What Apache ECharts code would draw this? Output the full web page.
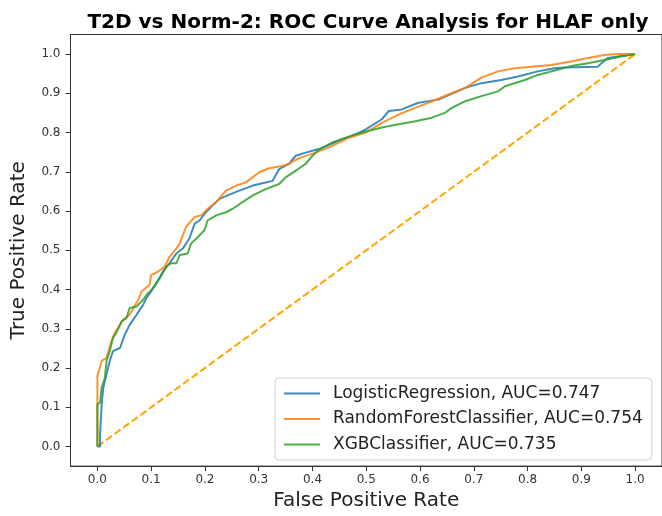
<!DOCTYPE html>
<html>
<head>
<meta charset="utf-8">
<script src="https://cdn.jsdelivr.net/npm/echarts@6/dist/echarts.min.js"></script>
<style>html,body{margin:0;padding:0;background:#fff}#c{width:662px;height:516px}</style>
</head>
<body>
<div id="c"></div>
<script>
const titleText = 'T2D vs Norm-2: ROC Curve Analysis for HLAF only';
const xTicks = [0, 0.1, 0.2, 0.3, 0.4, 0.5, 0.6, 0.7, 0.8, 0.9, 1.0];
const yTicks = [0, 0.1, 0.2, 0.3, 0.4, 0.5, 0.6, 0.7, 0.8, 0.9, 1.0];
const seriesNames = ['LogisticRegression, AUC=0.747', 'RandomForestClassifier, AUC=0.754', 'XGBClassifier, AUC=0.735'];

const lrFpr = [0, 0.005, 0.005, 0.008, 0.011, 0.017, 0.023, 0.029, 0.042, 0.051, 0.06, 0.073, 0.085, 0.091, 0.1, 0.113, 0.122, 0.134, 0.147, 0.159, 0.171, 0.181, 0.19, 0.202, 0.214, 0.227, 0.242, 0.264, 0.289, 0.313, 0.326, 0.338, 0.356, 0.369, 0.387, 0.412, 0.455, 0.474, 0.499, 0.529, 0.542, 0.566, 0.597, 0.634, 0.662, 0.684, 0.714, 0.751, 0.782, 0.819, 0.85, 0.869, 0.93, 0.949, 0.968, 1.0];
const lrTpr = [0, 0, 0.032, 0.108, 0.15, 0.184, 0.218, 0.243, 0.251, 0.285, 0.31, 0.336, 0.361, 0.378, 0.395, 0.424, 0.446, 0.467, 0.492, 0.505, 0.53, 0.568, 0.576, 0.597, 0.614, 0.631, 0.64, 0.652, 0.665, 0.673, 0.677, 0.707, 0.72, 0.741, 0.749, 0.758, 0.783, 0.791, 0.808, 0.834, 0.855, 0.859, 0.876, 0.884, 0.901, 0.914, 0.926, 0.934, 0.943, 0.956, 0.964, 0.966, 0.968, 0.99, 0.994, 1.0];

const rfFpr = [0, 0, 0.008, 0.017, 0.026, 0.032, 0.048, 0.06, 0.076, 0.082, 0.097, 0.1, 0.113, 0.125, 0.134, 0.147, 0.153, 0.165, 0.181, 0.193, 0.205, 0.221, 0.239, 0.258, 0.276, 0.301, 0.319, 0.344, 0.356, 0.375, 0.406, 0.437, 0.468, 0.499, 0.529, 0.56, 0.591, 0.622, 0.653, 0.684, 0.714, 0.745, 0.776, 0.807, 0.844, 0.881, 0.912, 0.943, 0.968, 1.0];
const rfTpr = [0, 0.18, 0.218, 0.226, 0.268, 0.289, 0.323, 0.336, 0.374, 0.395, 0.412, 0.437, 0.446, 0.458, 0.483, 0.505, 0.517, 0.56, 0.585, 0.589, 0.606, 0.623, 0.652, 0.665, 0.673, 0.699, 0.709, 0.715, 0.72, 0.735, 0.749, 0.766, 0.787, 0.8, 0.825, 0.846, 0.863, 0.88, 0.897, 0.914, 0.94, 0.956, 0.964, 0.968, 0.972, 0.981, 0.99, 0.998, 1.0, 1.0];

const xgbFpr = [0, 0, 0.005, 0.008, 0.014, 0.017, 0.023, 0.029, 0.035, 0.045, 0.054, 0.06, 0.073, 0.085, 0.091, 0.103, 0.116, 0.128, 0.137, 0.147, 0.153, 0.168, 0.174, 0.187, 0.199, 0.205, 0.221, 0.239, 0.252, 0.27, 0.289, 0.313, 0.338, 0.35, 0.369, 0.387, 0.4, 0.412, 0.437, 0.48, 0.529, 0.56, 0.591, 0.622, 0.647, 0.659, 0.684, 0.714, 0.745, 0.758, 0.795, 0.819, 0.856, 0.881, 0.912, 0.943, 0.974, 1.0];
const xgbTpr = [0, 0.108, 0.112, 0.15, 0.175, 0.218, 0.243, 0.277, 0.289, 0.319, 0.327, 0.353, 0.357, 0.374, 0.386, 0.403, 0.429, 0.458, 0.467, 0.467, 0.488, 0.492, 0.517, 0.534, 0.551, 0.576, 0.589, 0.597, 0.606, 0.623, 0.64, 0.656, 0.669, 0.686, 0.703, 0.72, 0.741, 0.756, 0.775, 0.796, 0.813, 0.821, 0.829, 0.838, 0.851, 0.863, 0.88, 0.893, 0.905, 0.918, 0.934, 0.947, 0.96, 0.97, 0.977, 0.985, 0.994, 1.0];

const diagX = [0, 1];
const diagY = [0, 1];

const zip = (a, b) => a.map((v, i) => [v, b[i]]);
const colors = ['#1f77b4', '#ff7f0e', '#2ca02c'];
const FONT = 'DejaVu Sans';

const chart = echarts.init(document.getElementById('c'), null, {renderer: 'canvas'});
const lineSeries = (name, data, color) => ({
  name, type: 'line', data, symbol: 'none', showSymbol: false, animation: false,
  lineStyle: {color, width: 2, opacity: 0.85}, itemStyle: {color}, z: 3
});

chart.setOption({
  animation: false,
  textStyle: {fontFamily: FONT},
  title: {
    text: titleText, left: 363, top: 8, textAlign: 'center',
    textStyle: {fontFamily: FONT, fontWeight: 'bold', fontSize: 20, color: '#000'}
  },
  grid: {left: 70.5, top: 34.5, right: -2.5, bottom: 47, show: true, borderColor: '#333', borderWidth: 1, backgroundColor: '#fff'},
  xAxis: {
    type: 'value', min: -0.05, max: 1.05,
    name: 'False Positive Rate', nameLocation: 'middle', nameGap: 22,
    nameTextStyle: {fontFamily: FONT, fontSize: 20, color: '#222'},
    axisLine: {show: true, onZero: false, lineStyle: {color: '#333', width: 1}},
    axisTick: {show: true, length: 5, customValues: xTicks, lineStyle: {color: '#333'}},
    axisLabel: {customValues: xTicks, formatter: v => v.toFixed(1), fontFamily: FONT, fontSize: 12, color: '#333', margin: 8},
    splitLine: {show: false}
  },
  yAxis: {
    type: 'value', min: -0.05, max: 1.05,
    name: 'True Positive Rate', nameLocation: 'middle', nameGap: 41.5,
    nameTextStyle: {fontFamily: FONT, fontSize: 20, color: '#222'},
    axisLine: {show: true, onZero: false, lineStyle: {color: '#333', width: 1}},
    axisTick: {show: true, length: 5, customValues: yTicks, lineStyle: {color: '#333'}},
    axisLabel: {customValues: yTicks, formatter: v => v.toFixed(1), fontFamily: FONT, fontSize: 12, color: '#333', margin: 10},
    splitLine: {show: false}
  },
  legend: {
    orient: 'vertical', left: 275, top: 378,
    data: seriesNames,
    padding: [7, 9, 7, 8], itemGap: 8.5, itemWidth: 36, itemHeight: 14,
    itemStyle: {opacity: 0},
    textStyle: {fontFamily: FONT, fontSize: 17, color: '#222', padding: [0, 0, 0, 8]},
    borderColor: '#d0d0d0', borderWidth: 1, borderRadius: 4, backgroundColor: 'rgba(255,255,255,0.8)'
  },
  series: [
    lineSeries(seriesNames[0], zip(lrFpr, lrTpr), colors[0]),
    lineSeries(seriesNames[1], zip(rfFpr, rfTpr), colors[1]),
    lineSeries(seriesNames[2], zip(xgbFpr, xgbTpr), colors[2]),
    {
      type: 'line', data: zip(diagX, diagY), symbol: 'none', showSymbol: false,
      lineStyle: {color: '#ffa500', width: 2, type: [7.4, 3.2]}, z: 2, silent: true
    }
  ]
});
</script>
</body>
</html>
